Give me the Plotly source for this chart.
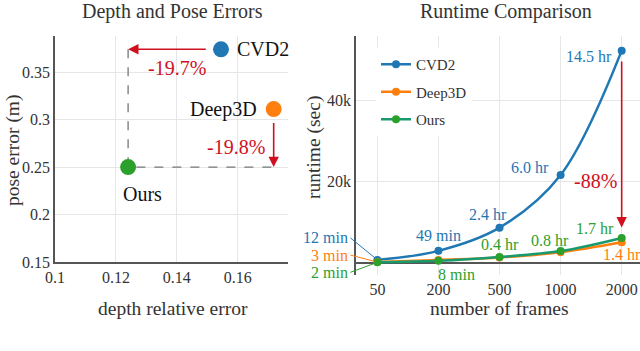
import plotly.graph_objects as go

# ---- left panel: depth / pose errors ----
methods = ["CVD2", "Deep3D", "Ours"]
depth_err = [0.1545, 0.1718, 0.124]
pose_err = [0.374, 0.311, 0.25]
pose_gain_label = "-19.8%"
depth_gain_label = "-19.7%"

# ---- right panel: runtime ----
frames = ["50", "200", "500", "1000", "2000"]
runtime_cvd2 = [720, 2940, 8640, 21600, 52200]
runtime_deep3d = [180, 700, 1300, 2600, 5040]
runtime_ours = [120, 480, 1440, 2880, 6120]
labels_cvd2 = ["12 min", "49 min", "2.4 hr", "6.0 hr", "14.5 hr"]
labels_deep3d = ["3 min", "", "", "", "1.4 hr"]
labels_ours = ["2 min", "8 min", "0.4 hr", "0.8 hr", "1.7 hr"]
runtime_gain_label = "-88%"

BLUE = "#1f77b4"
ORANGE = "#ff7f0e"
GREEN = "#2ca02c"
TEAL = "#169a6e"
RED = "#d0101e"
FONT = "Liberation Serif"
W, H = 640, 351

xpos = list(range(len(frames)))  # category slots on the runtime axis


def px(x):
    return x / W


def py(y):
    return 1 - y / H


def f(size, color="#333"):
    return dict(family=FONT, size=size, color=color)


fig = go.Figure()

# dashed guides (from data)
fig.add_trace(go.Scatter(
    x=[depth_err[2], depth_err[2], depth_err[1]],
    y=[pose_err[0], pose_err[2], pose_err[2]],
    mode="lines", line=dict(color="#777", width=1.3, dash="dash"),
    xaxis="x", yaxis="y", showlegend=False, hoverinfo="skip"))

colors = [BLUE, ORANGE, GREEN]
for m, dx, dy, c in zip(methods, depth_err, pose_err, colors):
    fig.add_trace(go.Scatter(
        x=[dx], y=[dy], mode="markers", marker=dict(color=c, size=16),
        xaxis="x", yaxis="y", showlegend=False, name=m))

# runtime lines
for name, vals, lc, mc in [("CVD2", runtime_cvd2, BLUE, BLUE),
                           ("Deep3D", runtime_deep3d, ORANGE, ORANGE),
                           ("Ours", runtime_ours, TEAL, GREEN)]:
    fig.add_trace(go.Scatter(
        x=xpos, y=vals, mode="lines+markers", name=name, legendgroup=name,
        line=dict(color=lc, width=2.5, shape="spline"),
        marker=dict(color=mc, size=8), xaxis="x2", yaxis="y2"))

ann = []


def label(text, x, y, size, xref="paper", yref="paper", **kw):
    d = dict(text=text, x=x, y=y, xref=xref, yref=yref, showarrow=False,
             xanchor="center", yanchor="middle", font=f(size, kw.pop("color", "#333")))
    d.update(kw)
    ann.append(d)


# titles
label("Depth and Pose Errors", px(172), py(12), 20)
label("Runtime Comparison", px(506), py(12), 20)
label("pose error (m)", px(13), py(150), 19.5, textangle=-90)
label("runtime (sec)", px(314), py(148), 19.5, textangle=-90)
label("depth relative error", px(173), py(308), 19.5)
label("number of frames", px(499), py(308), 19.5)

# left panel labels
label("CVD2", depth_err[0], pose_err[0], 20, "x", "y", xanchor="left", xshift=14, color="#111")
label("Deep3D", depth_err[1], pose_err[1], 20, "x", "y", xanchor="right", xshift=-15,
      color="#111")
label("Ours", depth_err[2], pose_err[2], 20, "x", "y", xshift=14, yshift=-27, color="#111")
label(depth_gain_label, depth_err[0], pose_err[0], 20, "x", "y", xshift=-44, yshift=-19,
      color=RED)
label(pose_gain_label, depth_err[1], pose_err[1], 20, "x", "y", xanchor="right", xshift=-7,
      yshift=-38, color=RED)

# red arrows (left panel)
ann.append(dict(x=depth_err[2], y=pose_err[0], ax=depth_err[0] - 0.0045, ay=pose_err[0],
                xref="x", yref="y", axref="x", ayref="y", text="", showarrow=True,
                arrowhead=2, arrowsize=1.3, arrowwidth=1.6, arrowcolor=RED))
ann.append(dict(x=depth_err[1], y=pose_err[2], ax=depth_err[1], ay=pose_err[1] - 0.013,
                xref="x", yref="y", axref="x", ayref="y", text="", showarrow=True,
                arrowhead=2, arrowsize=1.3, arrowwidth=1.6, arrowcolor=RED))

# runtime labels at 50 frames, with leader lines
for vals, txt, c, ay in [(runtime_cvd2, labels_cvd2, BLUE, -22),
                         (runtime_deep3d, labels_deep3d, ORANGE, -7),
                         (runtime_ours, labels_ours, GREEN, 10)]:
    ann.append(dict(text=txt[0], x=xpos[0], y=vals[0], xref="x2", yref="y2", showarrow=True,
                    ax=-27, ay=ay, arrowhead=0, arrowwidth=1, arrowcolor=c,
                    xanchor="right", yanchor="middle", standoff=3, font=f(16, c)))

# CVD2 labels: (xshift, yshift, anchor)
cvd2_pos = [None, (0, 15, "center"), (-12, 13, "center"), (-10, 8, "right"), (-8, -6, "right")]
for i in range(1, 5):
    dx, dy, anc = cvd2_pos[i]
    label(labels_cvd2[i], xpos[i], runtime_cvd2[i], 16, "x2", "y2", xshift=dx, yshift=dy,
          xanchor=anc, color=BLUE)

ours_pos = [None, (18, -14, "center"), (0, 12, "center"), (-11, 11, "center"),
            (-6, 9, "right")]
for i in range(1, 5):
    dx, dy, anc = ours_pos[i]
    label(labels_ours[i], xpos[i], runtime_ours[i], 16, "x2", "y2", xshift=dx, yshift=dy,
          xanchor=anc, color=GREEN)

label(labels_deep3d[4], xpos[4], runtime_deep3d[4], 16, "x2", "y2", yshift=-12, color=ORANGE)

# red arrow (right panel)
ann.append(dict(x=xpos[4], y=8700, ax=xpos[4], ay=runtime_cvd2[4] - 2300,
                xref="x2", yref="y2", axref="x2", ayref="y2", text="", showarrow=True,
                arrowhead=2, arrowsize=1.3, arrowwidth=1.6, arrowcolor=RED))
label(runtime_gain_label, xpos[4], 20000, 20, "x2", "y2", xanchor="right", xshift=-3,
      yshift=1, color=RED)

axis_common = dict(showgrid=True, gridcolor="#e6e6e6", gridwidth=1, showline=True,
                   linecolor="#555", linewidth=1.5, ticks="", zeroline=False,
                   automargin=False, tickfont=f(16))

fig.update_layout(
    width=W, height=H,
    margin=dict(l=0, r=0, t=0, b=0, autoexpand=False),
    paper_bgcolor="white", plot_bgcolor="white",
    font=dict(family=FONT, color="#333"),
    xaxis=dict(domain=[px(55), px(288)], range=[0.1, 0.1765], anchor="y",
               tickvals=[0.1, 0.12, 0.14, 0.16], ticktext=["0.1", "0.12", "0.14", "0.16"],
               **axis_common),
    yaxis=dict(domain=[py(262), py(36)], range=[0.15, 0.388], anchor="x",
               tickvals=[0.15, 0.2, 0.25, 0.3, 0.35],
               ticktext=["0.15", "0.2", "0.25", "0.3", "0.35"], **axis_common),
    xaxis2=dict(domain=[px(356), 1.0], range=[-0.35, 4.3], anchor="y2",
                tickvals=xpos, ticktext=frames, showgrid=True, gridcolor="#e6e6e6",
                showline=False, zeroline=False, ticks="", automargin=False,
                ticklabelstandoff=3, tickfont=f(16)),
    yaxis2=dict(domain=[py(275), py(36)], range=[-3000, 55800], anchor="x2",
                tickvals=[0, 20000, 40000], ticktext=["", "20k", "40k"],
                showgrid=True, gridcolor="#e6e6e6", showline=True, linecolor="#555",
                linewidth=1.5, ticks="", zeroline=True, zerolinecolor="#555",
                zerolinewidth=1.5, automargin=False, tickfont=f(16)),
    legend=dict(x=px(376), y=py(48), xanchor="left", yanchor="top",
                bgcolor="white", font=f(15), tracegroupgap=5),
    annotations=ann,
    hovermode=False,
)

fig.write_html("out.html", config={"displayModeBar": False},
               post_script="document.body.style.margin='0';")
